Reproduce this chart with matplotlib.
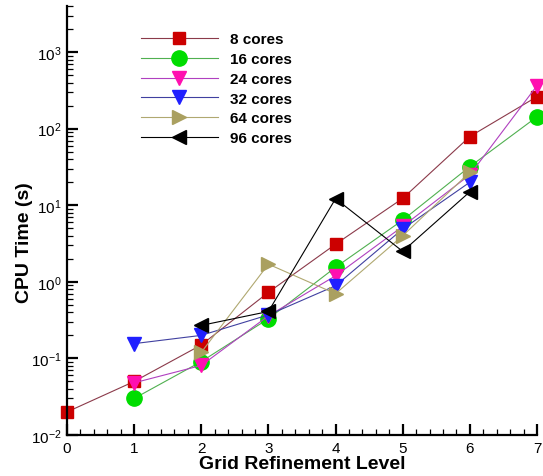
import numpy as np
import matplotlib
matplotlib.use("Agg")
import matplotlib.pyplot as plt
from matplotlib.ticker import MultipleLocator, LogLocator, NullFormatter

plt.rcParams['font.family'] = ['Liberation Sans', 'DejaVu Sans']
plt.rcParams['mathtext.fontset'] = 'custom'
plt.rcParams['mathtext.rm'] = 'Liberation Sans'
plt.rcParams['mathtext.default'] = 'regular'

# data
lev8 = [0, 1, 2, 3, 4, 5, 6, 7]
t8 = [0.020, 0.050, 0.15, 0.73, 3.1, 12.3, 79, 262]
lev16 = [1, 2, 3, 4, 5, 6, 7]
t16 = [0.030, 0.091, 0.33, 1.55, 6.4, 32, 143]
lev24 = [1, 2, 3, 4, 5, 6, 7]
t24 = [0.048, 0.081, 0.36, 1.2, 5.3, 25, 365]
lev32 = [1, 2, 3, 4, 5, 6]
t32 = [0.156, 0.20, 0.37, 0.89, 4.9, 20]
lev64 = [2, 3, 4, 5, 6]
t64 = [0.12, 1.7, 0.70, 4.0, 27]
lev96 = [2, 3, 4, 5, 6]
t96 = [0.27, 0.41, 12.2, 2.5, 15]

fig = plt.figure(figsize=(5.43, 4.77), dpi=100)
ax = fig.add_axes([67/543, 41/477, 470/543, 429/477])

series = [
    (lev8, t8, '8 cores', 's', 9, '#cc0000', '#8b3a4a'),
    (lev16, t16, '16 cores', 'o', 11, '#00dd00', '#50b050'),
    (lev24, t24, '24 cores', 'v', 10, '#ff10b0', '#b040c0'),
    (lev32, t32, '32 cores', 'v', 10, '#2020ff', '#4040a0'),
    (lev64, t64, '64 cores', '>', 10, '#aaa060', '#b0a870'),
    (lev96, t96, '96 cores', '<', 10, '#000000', '#000000'),
]
for x, y, lab, m, ms, mc, lc in series:
    ax.plot(x, y, color=lc, lw=0.8, marker=m, markersize=ms,
            markerfacecolor=mc, markeredgecolor=mc, label=lab, clip_on=False)

ax.set_yscale('log')
ax.set_xlim(0, 7)
ax.set_ylim(0.01, 4000)

ax.xaxis.set_major_locator(MultipleLocator(1))
ax.xaxis.set_minor_locator(MultipleLocator(0.2))
ax.yaxis.set_major_locator(LogLocator(base=10, numticks=10))
ax.yaxis.set_minor_locator(LogLocator(base=10, subs=np.arange(2, 10), numticks=20))
ax.yaxis.set_minor_formatter(NullFormatter())

for s in ['top', 'right']:
    ax.spines[s].set_visible(False)
for s in ['left', 'bottom']:
    ax.spines[s].set_linewidth(1.6)

ax.tick_params(which='major', direction='in', length=8, width=1.6, labelsize=11, pad=4)
ax.tick_params(which='minor', direction='in', length=4.5, width=0.9)

ax.set_xlabel('Grid Refinement Level', fontsize=14, fontweight='bold', labelpad=0)
ax.set_ylabel('CPU Time (s)', fontsize=14, fontweight='bold')
ax.yaxis.set_label_coords(-0.072, 0.45)

leg = ax.legend(loc='upper left', bbox_to_anchor=(0.145, 0.953), frameon=False,
                prop={'weight': 'bold', 'size': 11}, handlelength=5.0,
                labelspacing=0.38, handletextpad=0.8, borderaxespad=0)

fig.savefig('out.png', dpi=100)
